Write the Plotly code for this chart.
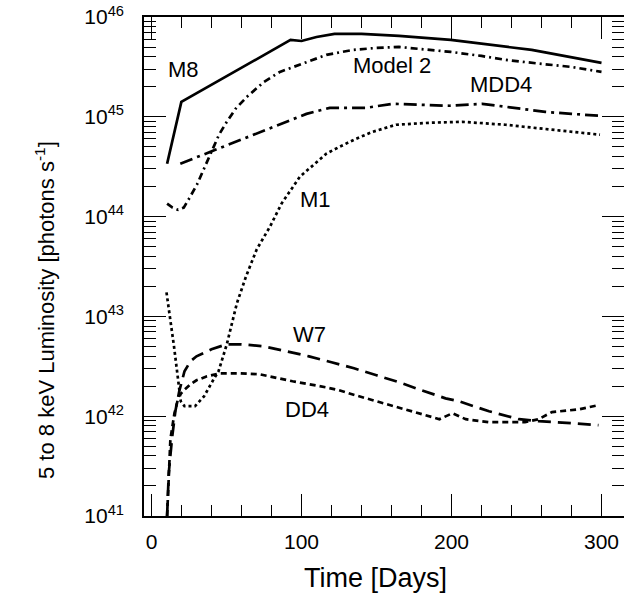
import plotly.graph_objects as go

# ---- data ----
m8_days = [10.4, 19.9, 92.7, 100, 110, 122, 140, 165, 199.5, 220, 253.5, 300]
m8_lum = [3.39e44, 1.41e45, 5.89e45, 5.75e45, 6.31e45, 6.76e45, 6.76e45, 6.46e45,
          5.89e45, 5.37e45, 4.68e45, 3.47e45]

model2_days = [10.4, 14, 17.7, 21.5, 25, 30.3, 35, 39.2, 45, 50.2, 56, 63.5, 75, 85.6,
               98.9, 107.7, 116.6, 134.3, 150, 165, 180, 199.5, 220, 236, 260, 280, 300]
model2_lum = [1.35e44, 1.23e44, 1.17e44, 1.23e44, 1.51e44, 2.09e44, 3.02e44, 4.27e44,
              6.61e44, 8.91e44, 1.20e45, 1.58e45, 2.24e45, 2.82e45, 3.31e45, 3.72e45,
              4.17e45, 4.68e45, 4.90e45, 5.01e45, 4.79e45, 4.47e45, 4.07e45, 3.72e45,
              3.39e45, 3.16e45, 2.82e45]

mdd4_days = [19.2, 39.2, 61.2, 85.6, 103.3, 118.8, 134.3, 143, 160.8, 180, 198.4,
             220.5, 240.4, 262.5, 280, 300]
mdd4_lum = [3.39e44, 4.47e44, 6.03e44, 8.51e44, 1.07e45, 1.23e45, 1.23e45, 1.23e45,
            1.35e45, 1.32e45, 1.29e45, 1.35e45, 1.23e45, 1.12e45, 1.07e45, 1.02e45]

m1_days = [10, 15, 19.5, 22, 29, 35, 41.4, 44.7, 50.2, 56.9, 63, 70.1, 79, 86.7, 98.9,
           116.6, 125.4, 136.5, 147.5, 163, 185, 207, 236, 269, 299]
m1_lum = [1.74e43, 5.01e42, 1.41e42, 1.26e42, 1.26e42, 1.58e42, 2.34e42, 2.82e42,
          5.25e42, 1.35e43, 2.51e43, 4.68e43, 7.94e43, 1.35e44, 2.51e44, 4.27e44,
          5.01e44, 6.03e44, 7.08e44, 8.32e44, 8.71e44, 8.91e44, 8.32e44, 7.41e44, 6.61e44]

w7_days = [10.4, 11.5, 13.7, 15.9, 18.5, 22, 26, 30, 40, 50, 60, 75, 90, 105, 120, 135,
           150, 165, 180, 196, 205, 225, 245, 258, 280, 298]
w7_lum = [1.0e41, 2.69e41, 6.03e41, 1.12e42, 1.78e42, 2.82e42, 3.55e42, 3.98e42, 4.68e42,
          5.25e42, 5.25e42, 5.01e42, 4.47e42, 3.98e42, 3.47e42, 3.02e42, 2.57e42,
          2.19e42, 1.82e42, 1.51e42, 1.41e42, 1.12e42, 9.33e41, 8.91e41, 8.51e41, 8.13e41]

dd4_days = [10.4, 12.6, 15.3, 18.1, 21, 26, 30, 37, 46, 59, 72, 94, 116, 125, 136, 147,
            170, 192, 200.6, 209.5, 225, 249, 258, 267, 285, 298]
dd4_lum = [1.0e41, 5.89e41, 1.07e42, 1.58e42, 1.78e42, 2.09e42, 2.29e42, 2.51e42,
           2.69e42, 2.69e42, 2.63e42, 2.24e42, 1.95e42, 1.82e42, 1.62e42, 1.45e42,
           1.17e42, 9.33e41, 1.07e42, 9.33e41, 8.71e41, 8.71e41, 9.33e41, 1.10e42,
           1.17e42, 1.29e42]

ytick_exps = [41, 42, 43, 44, 45, 46]
xtick_vals = [0, 100, 200, 300]

labels = [  # (text, day, log10 luminosity)
    ("M8", 21.3, 45.47),
    ("Model 2", 160.5, 45.51),
    ("MDD4", 232.7, 45.32),
    ("M1", 109.3, 44.17),
    ("W7", 105.5, 42.82),
    ("DD4", 103.8, 42.07),
]

FONT = "Liberation Sans, Arial, sans-serif"
LW = 2.7

fig = go.Figure()
series = [
    (m8_days, m8_lum, "solid"),
    (model2_days, model2_lum, "7px,4px,2px,4px"),
    (mdd4_days, mdd4_lum, "13px,5px,3px,5px"),
    (m1_days, m1_lum, "3px,3px"),
    (w7_days, w7_lum, "13px,7px"),
    (dd4_days, dd4_lum, "6px,4px"),
]
for xs, ys, dash in series:
    fig.add_trace(go.Scatter(x=xs, y=ys, mode="lines",
                             line=dict(color="black", width=LW, dash=dash),
                             showlegend=False, hoverinfo="skip"))

# invisible trace that anchors the mirrored (top / right) axes
fig.add_trace(go.Scatter(x=[m8_days[0]], y=[m8_lum[0]], xaxis="x2", yaxis="y2",
                         mode="markers", marker=dict(opacity=0), showlegend=False,
                         hoverinfo="skip"))

for text, xd, ly in labels:
    fig.add_annotation(x=xd, y=ly, xref="x", yref="y", text=text, showarrow=False,
                       xanchor="center", yanchor="middle",
                       font=dict(family=FONT, size=22, color="black"))

minor_y = [m * 10.0 ** e for e in ytick_exps[:-1] for m in range(2, 10)]

xcommon = dict(range=[-5, 315], tickvals=xtick_vals, automargin=False,
               ticks="inside", ticklen=22, tickwidth=1.2, tickcolor="black",
               minor=dict(dtick=20, tick0=0, ticks="inside", ticklen=11,
                          tickwidth=1.2, tickcolor="black"),
               showline=True, linecolor="black", linewidth=1.5,
               showgrid=False, zeroline=False)
ycommon = dict(type="log", range=[41, 46], automargin=False,
               tickvals=[10.0 ** e for e in ytick_exps],
               ticktext=[f"10<sup>{e}</sup>" for e in ytick_exps],
               ticks="inside", ticklen=22, tickwidth=1.2, tickcolor="black",
               minor=dict(tickvals=minor_y, ticks="inside", ticklen=12,
                          tickwidth=1.2, tickcolor="black"),
               showline=True, linecolor="black", linewidth=1.5,
               showgrid=False, zeroline=False)

L, R, T, B = 144, 0, 17, 89
W, H = 624, 605
pw, ph = W - L - R, H - T - B


def paper_xy(px, py):
    return (px - L) / pw, 1 - (py - T) / ph


tx, ty = paper_xy(375, 578)
fig.add_annotation(x=tx, y=ty, xref="paper", yref="paper", text="Time [Days]",
                   xanchor="center", yanchor="middle",
                   showarrow=False, font=dict(family=FONT, size=27, color="black"))
yx, yy = paper_xy(45, 310)
fig.add_annotation(x=yx, y=yy, xref="paper", yref="paper",
                   text="5 to 8 keV Luminosity [photons s<sup>-1</sup>]", textangle=-90,
                   xanchor="center", yanchor="middle",
                   showarrow=False, font=dict(family=FONT, size=22, color="black"))

fig.update_layout(
    width=W, height=H, margin=dict(l=L, r=R, t=T, b=B, autoexpand=False),
    paper_bgcolor="white", plot_bgcolor="white",
    font=dict(family=FONT, color="black"),
    xaxis=dict(**xcommon, ticklabelstandoff=6,
               tickfont=dict(family=FONT, size=21, color="black")),
    yaxis=dict(**ycommon, ticklabelstandoff=14,
               tickfont=dict(family=FONT, size=21, color="black")),
    xaxis2=dict(**xcommon, overlaying="x", side="top", anchor="y", showticklabels=False),
    yaxis2=dict(**ycommon, overlaying="y", side="right", anchor="x", showticklabels=False),
)

fig.write_html("out.html", config={"displayModeBar": False},
               post_script="document.body.style.margin='0';document.body.style.overflow='hidden';")
